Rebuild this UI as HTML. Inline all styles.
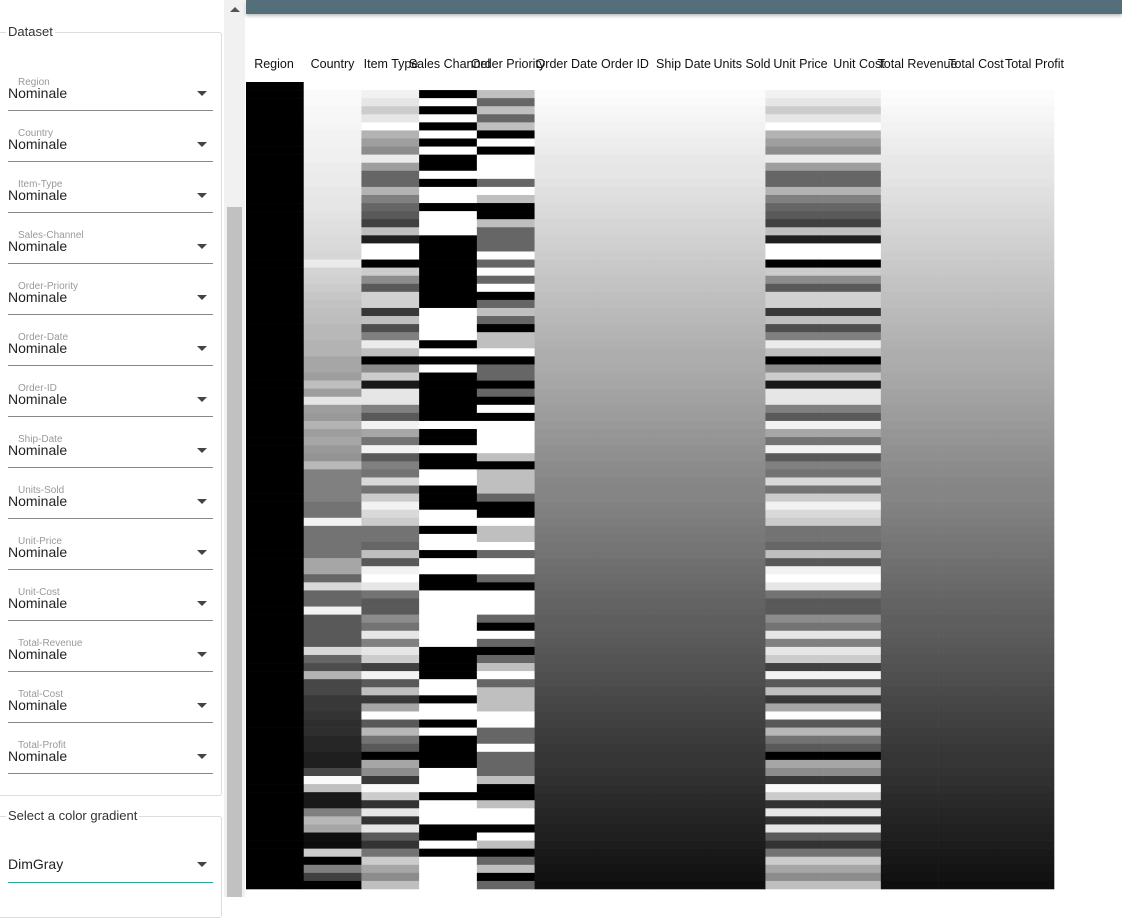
<!DOCTYPE html>
<html><head><meta charset="utf-8">
<style>
body{margin:0;width:1122px;height:897px;overflow:hidden;background:#fff;font-family:"Liberation Sans",sans-serif;position:relative}
.abs{position:absolute}
.fs{position:absolute;border:1px solid #ddd;border-radius:3px}
.leg{position:absolute;background:#fff;font-size:13px;color:#333;padding:0 2px}
.field{position:absolute;left:8px;width:205px;height:50px;border-bottom:1px solid #888}
.field .lab{position:absolute;left:10px;top:17px;font-size:10px;color:#999}
.field .val{position:absolute;left:0;top:25px;font-size:14px;color:#222}
.field .arr{position:absolute;right:6px;top:31px;width:0;height:0;border-left:5px solid transparent;border-right:5px solid transparent;border-top:5px solid #444}
.hdr{position:absolute;top:57px;font-size:12.5px;color:#111;white-space:nowrap;transform:translateX(-50%)}
</style></head><body>
<div class="fs" style="left:-2px;top:32px;width:222px;height:762px"></div>
<div class="leg" style="left:6px;top:24px">Dataset</div>
<div id="fields"></div>
<div class="fs" style="left:-2px;top:816px;width:222px;height:100px"></div>
<div class="leg" style="left:6px;top:808px">Select a color gradient</div>
<div class="field" style="top:846px;height:36px;border-bottom:1px solid #26a69a"><div class="val" style="top:10px">DimGray</div><div class="arr" style="top:16px"></div></div>
<div class="abs" style="left:224px;top:0;width:21px;height:897px;background:#f1f1f1"></div>
<div class="abs" style="left:230px;top:7px;width:0;height:0;border-left:5px solid transparent;border-right:5px solid transparent;border-bottom:5px solid #555"></div>
<div class="abs" style="left:227px;top:207px;width:15px;height:690px;background:#c1c1c1"></div>
<div class="abs" style="left:246px;top:0;width:876px;height:14px;background:#546e7a;box-shadow:0 2px 3px rgba(0,0,0,.25)"></div>
<div id="hdrs"></div>
<svg class="abs" id="hm" style="left:0;top:0" width="1122" height="897"></svg>
<script>
const columns=["Region","Country","Item Type","Sales Channel","Order Priority","Order Date","Order ID","Ship Date","Units Sold","Unit Price","Unit Cost","Total Revenue","Total Cost","Total Profit"];
const countryVals=[0,.02,.02,.03,.03,.04,.05,.05,.06,.06,.07,.08,.08,.09,.1,.1,.11,.12,.13,.14,.15,.16,.08,.17,.18,.2,.22,.24,.25,.26,.28,.28,.3,.3,.35,.35,.38,.25,.38,.1,.38,.4,.3,.38,.35,.4,.42,.28,.5,.5,.5,.5,.55,.55,.05,.55,.55,.55,.55,.35,.35,.6,.15,.6,.6,.05,.65,.65,.65,.65,.15,.6,.7,.3,.72,.72,.78,.78,.8,.82,.82,.85,.85,.88,.88,.72,.02,.25,.9,.9,.5,.28,.35,.95,.95,.2,1,.5,.75,1];
const itemTypeVals=[0,.05,.1,.2,.1,0,.3,.38,.45,.08,.38,.6,.6,.3,.5,.6,.65,.75,.25,.88,0,0,1,.2,.45,.65,.18,.18,.78,.25,.7,.5,.08,.25,1,.45,.2,.9,.1,.1,.5,.65,.05,.35,.55,.05,.65,.5,.55,.15,.55,.2,.05,.15,.2,.55,.55,.6,.25,.65,.05,0,.1,.55,.65,.65,.45,.55,.1,.5,.1,.2,.75,.05,.65,.25,.78,.35,0,.65,.28,.55,.65,1,.35,.45,.78,.02,.2,.8,.1,.8,.1,.65,.8,.55,.2,.35,.45,.25];
const salesChannelVals=[0,1,0,1,0,1,0,1,0,1,1,0,1,0,0,1,0,0,0,1,1,1,1,1,1,1,1,1,0,0,0,0,1,0,1,0,1,1,1,1,1,1,0,1,1,0,1,1,0,0,1,1,1,0,0,1,0,0,1,0,0,1,1,0,0,0,0,0,0,0,1,1,1,1,0,0,1,0,0,1,0,1,1,1,1,0,0,0,1,0,0,0,1,1,0,1,0,0,0,0];
const orderPriorityVals=[0,.25,.6,.25,.6,.25,1,0,1,0,0,0,.6,0,.25,1,1,.25,.6,.6,.6,0,.6,0,.6,0,1,.6,.25,.6,1,.25,.25,0,1,.6,.6,1,.6,1,0,1,0,0,0,0,.25,1,.25,.25,.25,.6,1,1,0,.25,.25,0,.6,0,0,.6,1,0,0,0,.6,1,0,.6,1,.6,.25,0,.6,.25,.25,.25,0,0,.6,.6,0,.6,.6,.6,.25,1,1,.25,0,0,1,0,.25,1,.6,.25,1,.6];
const sortedVals=[0,.01,.02,.03,.04,.05,.06,.07,.08,.09,.1,.1,.11,.12,.13,.14,.15,.16,.17,.18,.19,.2,.21,.22,.23,.24,.25,.26,.27,.28,.29,.3,.31,.32,.32,.33,.34,.35,.36,.37,.38,.39,.4,.41,.42,.43,.44,.45,.46,.47,.48,.48,.49,.5,.51,.52,.53,.54,.55,.56,.57,.58,.59,.6,.61,.62,.63,.63,.64,.65,.66,.67,.68,.69,.7,.71,.72,.73,.74,.75,.76,.77,.78,.79,.79,.8,.81,.82,.83,.84,.85,.86,.87,.88,.89,.9,.91,.92,.93,.94];
const regionVals=[1,1,1,1,1,1,1,1,1,1,1,1,1,1,1,1,1,1,1,1,1,1,1,1,1,1,1,1,1,1,1,1,1,1,1,1,1,1,1,1,1,1,1,1,1,1,1,1,1,1,1,1,1,1,1,1,1,1,1,1,1,1,1,1,1,1,1,1,1,1,1,1,1,1,1,1,1,1,1,1,1,1,1,1,1,1,1,1,1,1,1,1,1,1,1,1,1,1,1,1];
const fieldNames=["Region","Country","Item-Type","Sales-Channel","Order-Priority","Order-Date","Order-ID","Ship-Date","Units-Sold","Unit-Price","Unit-Cost","Total-Revenue","Total-Cost","Total-Profit"];
const colData=[regionVals,countryVals,itemTypeVals,salesChannelVals,orderPriorityVals,sortedVals,sortedVals,sortedVals,sortedVals,itemTypeVals,itemTypeVals,sortedVals,sortedVals,sortedVals];

const fc=document.getElementById('fields');
fieldNames.forEach((n,i)=>{
  const d=document.createElement('div');d.className='field';d.style.top=(60+i*51)+'px';
  
  
  d.innerHTML='<div class="lab">'+n+'</div><div class="val">Nominale</div><div class="arr"></div>';
  fc.appendChild(d);
});
const X0=246,X1=1054,Y0=82,Y1=889;
const nRows=regionVals.length;
const cw=(X1-X0)/columns.length, rh=(Y1-Y0)/nRows;
const xs=i=>X0+i*cw, ys=r=>Y0+r*rh;
const shade=v=>{const g=Math.round(255*(1-v));return 'rgb('+g+','+g+','+g+')';};
const hc=document.getElementById('hdrs');
columns.forEach((c,i)=>{
  const h=document.createElement('div');h.className='hdr';h.textContent=c;h.style.left=(274+i*58.5)+'px';
  
  
  hc.appendChild(h);
});
const svg=document.getElementById('hm');const NS='http://www.w3.org/2000/svg';
colData.forEach((arr,ci)=>{
  arr.forEach((v,r)=>{
    const rc=document.createElementNS(NS,'rect');
    rc.setAttribute('x',xs(ci));rc.setAttribute('y',ys(r));
    rc.setAttribute('width',cw+0.3);rc.setAttribute('height',rh+0.3);
    rc.setAttribute('fill',shade(v));
    
    
    svg.appendChild(rc);
  });
});
</script>
</body></html>
